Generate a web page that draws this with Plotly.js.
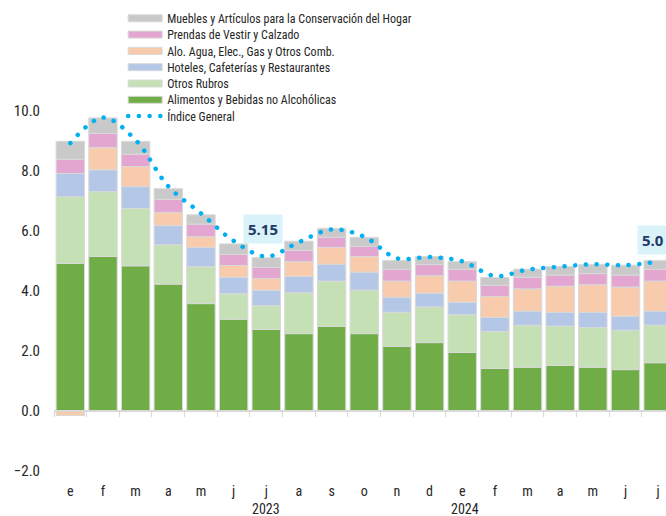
<!DOCTYPE html>
<html>
<head>
<meta charset="utf-8">
<script src="https://cdn.plot.ly/plotly-3.0.1.min.js"></script>
<style>html,body{margin:0;padding:0;background:#fff;}#chart{width:666px;height:516px;}</style>
</head>
<body>
<div id="chart"></div>
<script>
const months = ['e','f','m','a','m','j','j','a','s','o','n','d','e','f','m','a','m','j','j'];
const years = ['2023','2024'];
const alimentos   = [4.92,5.15,4.84,4.23,3.58,3.06,2.72,2.58,2.82,2.58,2.15,2.28,1.95,1.42,1.46,1.52,1.46,1.38,1.61];
const otros       = [2.22,2.16,1.91,1.31,1.23,0.85,0.79,1.36,1.51,1.45,1.14,1.19,1.26,1.23,1.40,1.31,1.32,1.31,1.25];
const hoteles     = [0.78,0.73,0.73,0.64,0.64,0.55,0.52,0.55,0.56,0.60,0.50,0.46,0.42,0.47,0.47,0.46,0.51,0.47,0.47];
const alojamiento = [-0.15,0.74,0.67,0.44,0.36,0.39,0.39,0.49,0.56,0.52,0.54,0.58,0.70,0.70,0.74,0.87,0.92,0.97,1.00];
const prendas     = [0.47,0.47,0.41,0.44,0.42,0.37,0.37,0.38,0.34,0.34,0.39,0.37,0.39,0.37,0.39,0.37,0.37,0.40,0.39];
const muebles     = [0.60,0.52,0.43,0.35,0.31,0.35,0.32,0.30,0.30,0.30,0.30,0.27,0.26,0.26,0.27,0.29,0.30,0.33,0.30];
const indice      = [8.93,9.78,9.03,7.49,6.59,5.67,5.15,5.63,6.05,5.81,5.09,5.13,4.99,4.50,4.71,4.81,4.89,4.86,4.98];
const yTicks = [-2,0,2,4,6,8,10];

const idx = months.map((_, i) => i);
const FONT = '"Roboto Condensed", "DejaVu Sans Condensed", sans-serif';
const TXT = '#262626';
const barLine = {color: '#D9D9D9', width: 1};

// legend rows (top to bottom), each in its own legend so the row pitch can match
const PLOT_TOP = 111, PLOT_H = 360;
function legendBox(row) {
  const yc = 18.3 + 16.3 * row;
  return {x: 0.113, xanchor: 'left', y: 1 + (PLOT_TOP - yc) / PLOT_H, yanchor: 'middle',
    bgcolor: 'rgba(0,0,0,0)', itemwidth: 34,
    font: {family: FONT, size: 12, color: TXT}};
}
const legendName = r => r === 0 ? 'legend' : 'legend' + (r + 1);

function barTrace(name, vals, color, row) {
  return {type: 'bar', name: name, x: idx, y: vals, legend: legendName(row),
    marker: {color: color, line: barLine}, hoverinfo: 'skip'};
}

const traces = [
  barTrace('Alimentos y Bebidas no Alcohólicas', alimentos, '#70AD47', 5),
  barTrace('Otros Rubros', otros, '#C5E0B4', 4),
  barTrace('Hoteles, Cafeterías y Restaurantes', hoteles, '#B4C7E7', 3),
  barTrace('Alo. Agua, Elec., Gas y Otros Comb.', alojamiento, '#F8CBAD', 2),
  barTrace('Prendas de Vestir y Calzado', prendas, '#E2A6D1', 1),
  barTrace('Muebles y Artículos para la Conservación del Hogar', muebles, '#C9C9C9', 0),
  {type: 'scatter', mode: 'lines', name: 'Índice General', x: idx, y: indice, xaxis: 'x2',
   legend: legendName(6), hoverinfo: 'skip',
   line: {color: '#00B0F0', width: 4.5, shape: 'spline', smoothing: 1}}
];

const xr = [-0.5, 18.24];
const layout = {
  width: 666, height: 516,
  margin: {l: 54, r: 0, t: PLOT_TOP, b: 516 - PLOT_TOP - PLOT_H},
  paper_bgcolor: '#fff', plot_bgcolor: '#fff',
  barmode: 'relative', bargap: 0.13,
  font: {family: FONT, size: 13, color: TXT},
  showlegend: true,
  xaxis: {range: xr, tickmode: 'array', tickvals: idx, ticktext: months, showgrid: false,
    zeroline: false, showline: false, ticks: '', ticklabelstandoff: 10,
    tickfont: {family: FONT, size: 14, color: TXT}, fixedrange: true},
  xaxis2: {range: xr, overlaying: 'x', anchor: 'free', position: 2/12, side: 'bottom',
    tickmode: 'array', tickvals: idx.concat([idx.length]).map(v => v - 0.5),
    showticklabels: false, ticks: 'outside', ticklen: 5, tickwidth: 1, tickcolor: '#D9D9D9',
    showline: true, linecolor: '#D9D9D9', linewidth: 2, showgrid: false, zeroline: false, fixedrange: true},
  yaxis: {range: [-2, 10], tickmode: 'array', tickvals: yTicks, tickformat: '.1f',
    showgrid: false, zeroline: false, showline: false, ticks: '', ticklabelstandoff: 13,
    tickfont: {family: FONT, size: 15, color: TXT}, fixedrange: true},
  annotations: [
    {x: 6, y: indice[6], xref: 'x', yref: 'y', text: '<b>5.15</b>', showarrow: false,
     xshift: -3, yshift: 28, bgcolor: '#DAF3FB', borderpad: 4,
     font: {family: '"Open Sans", sans-serif', size: 15, color: '#1F3864'}},
    {x: 18, y: indice[18], xref: 'x', yref: 'y', text: '<b>5.0</b>', showarrow: false,
     xanchor: 'left', xshift: -21, yshift: 22, bgcolor: '#DAF3FB', borderpad: 4, width: 40, align: 'left',
     font: {family: '"Open Sans", sans-serif', size: 15, color: '#1F3864'}},
    {x: 6, y: -2, xref: 'x', yref: 'y', text: years[0], showarrow: false, yshift: -38,
     font: {family: FONT, size: 14, color: TXT}},
    {x: 12.1, y: -2, xref: 'x', yref: 'y', text: years[1], showarrow: false, yshift: -38,
     font: {family: FONT, size: 14, color: TXT}}
  ]
};
for (let r = 0; r < 7; r++) layout[legendName(r)] = legendBox(r);

Plotly.newPlot('chart', traces, layout, {displayModeBar: false, staticPlot: true}).then(gd => {
  gd.querySelectorAll('.scatterlayer .js-line').forEach(p => {
    p.style.strokeDasharray = '0.1px,10.6px';
    p.style.strokeLinecap = 'round';
  });
  gd.querySelectorAll('.legendlines path').forEach(p => {
    p.style.strokeDasharray = '0.1px,10.6px';
    p.style.strokeLinecap = 'round';
  });
  gd.querySelectorAll('.legendpoints path').forEach(p => {
    p.setAttribute('transform', '');
    p.setAttribute('d', 'M5,3.5H39V-3.5H5Z');
  });
});
</script>
</body>
</html>
